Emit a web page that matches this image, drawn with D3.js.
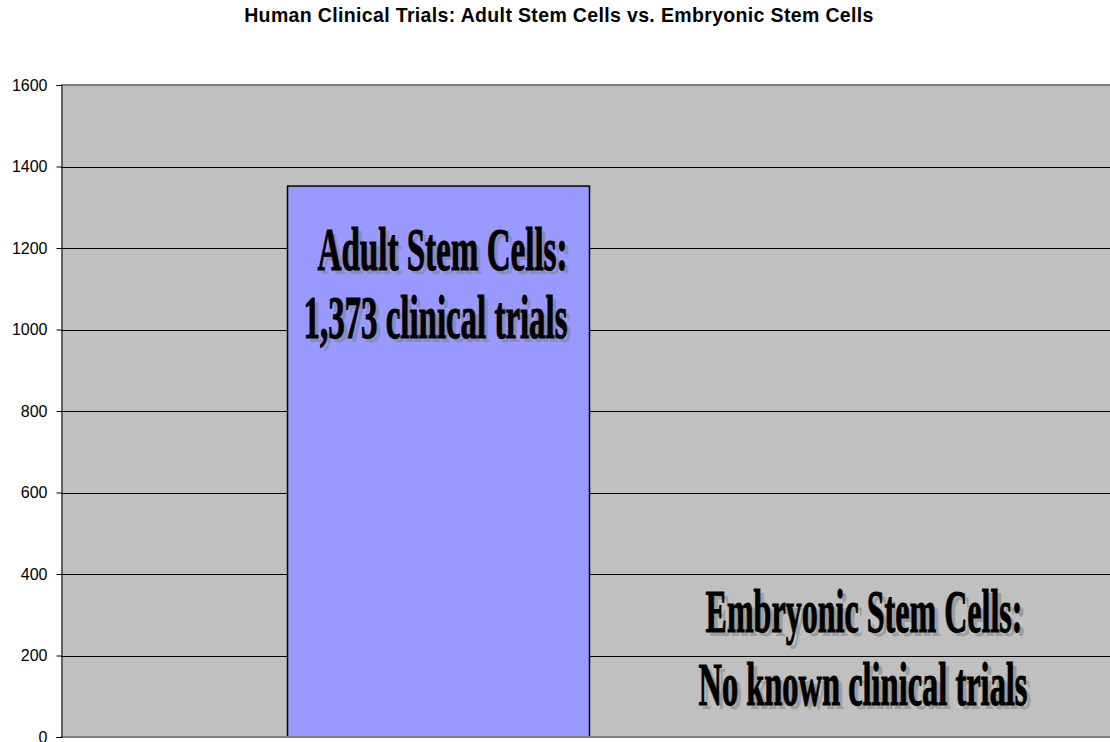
<!DOCTYPE html>
<html>
<head>
<meta charset="utf-8">
<script src="https://cdn.jsdelivr.net/npm/d3@7"></script>
<style>
  html, body { margin: 0; padding: 0; background: #ffffff; overflow: hidden; }
  svg { display: block; }
</style>
</head>
<body>
<svg id="chart" width="1110" height="742"></svg>
<script>
// ---- data ----
const categories = ["Adult Stem Cells", "Embryonic Stem Cells"];
const trialCounts = [1352, 0];
const yTicks = [0, 200, 400, 600, 800, 1000, 1200, 1400, 1600];
const titleText = "Human Clinical Trials: Adult Stem Cells vs. Embryonic Stem Cells";
const adultLabel = ["Adult Stem Cells:", "1,373 clinical trials"];
const embryonicLabel = ["Embryonic Stem Cells:", "No known clinical trials"];

// ---- layout ----
const plot = { left: 61, top: 85, bottom: 737, right: 1571 };

const svg = d3.select("#chart");

const x = d3.scaleBand()
  .domain(categories)
  .range([plot.left, plot.right])
  .paddingInner(0.6)
  .paddingOuter(0.3);

const y = d3.scaleLinear()
  .domain([0, 1600])
  .range([plot.bottom, plot.top]);

// plot background
svg.append("rect")
  .attr("x", plot.left).attr("y", plot.top)
  .attr("width", plot.right - plot.left)
  .attr("height", plot.bottom - plot.top)
  .attr("fill", "#c0c0c0");

// gridlines
svg.append("g")
  .selectAll("line")
  .data(yTicks.filter(d => d > 0 && d < 1600))
  .join("line")
  .attr("x1", plot.left).attr("x2", plot.right)
  .attr("y1", d => Math.round(y(d)) + 0.5).attr("y2", d => Math.round(y(d)) + 0.5)
  .attr("stroke", "#000").attr("stroke-width", 1);

// top border
svg.append("line")
  .attr("x1", plot.left).attr("x2", plot.right)
  .attr("y1", y(1600)).attr("y2", y(1600))
  .attr("stroke", "#808080").attr("stroke-width", 2);

// bars
svg.append("g")
  .selectAll("rect")
  .data(categories.map((c, i) => ({ c, v: trialCounts[i] })).filter(d => d.v > 0))
  .join("rect")
  .attr("x", d => x(d.c))
  .attr("y", d => y(d.v))
  .attr("width", x.bandwidth())
  .attr("height", d => y(0) - y(d.v))
  .attr("fill", "#9999ff")
  .attr("stroke", "#000")
  .attr("stroke-width", 1.5);

// bottom (zero) line
svg.append("line")
  .attr("x1", plot.left).attr("x2", plot.right)
  .attr("y1", y(0)).attr("y2", y(0))
  .attr("stroke", "#808080").attr("stroke-width", 2);

// y axis
const yAxis = d3.axisLeft(y)
  .tickValues(yTicks)
  .tickSize(5)
  .tickPadding(9)
  .tickFormat(d3.format("d"));
const gy = svg.append("g")
  .attr("transform", `translate(${plot.left + 0.5},0)`)
  .call(yAxis);
gy.select(".domain").attr("stroke", "#000").attr("stroke-width", 1);
gy.selectAll(".tick line").attr("stroke", "#000");
gy.selectAll(".tick text")
  .attr("font-family", "Arial, 'Liberation Sans', sans-serif")
  .attr("font-size", 16)
  .attr("fill", "#000");

// title
svg.append("text")
  .attr("x", 559).attr("y", 22)
  .attr("text-anchor", "middle")
  .attr("font-family", "Arial, 'Liberation Sans', sans-serif")
  .attr("font-weight", "bold")
  .attr("font-size", 19.5)
  .attr("letter-spacing", 0.35)
  .attr("fill", "#000")
  .text(titleText);

// annotation text with shadow, condensed serif
function bigLabel(lines, specs) {
  const g = svg.append("g");
  lines.forEach((t, i) => {
    const s = specs[i];
    [["shadow", 4, 4], ["main", 0, 0]].forEach(([kind, dx, dy]) => {
      g.append("text")
        .attr("x", s.x + dx).attr("y", s.y + dy)
        .attr("text-anchor", "middle")
        .attr("font-family", "'Times New Roman', 'Liberation Serif', serif")
        .attr("font-weight", "bold")
        .attr("font-size", 62)
        .attr("textLength", s.w)
        .attr("lengthAdjust", "spacingAndGlyphs")
        .attr("fill", kind === "shadow" ? "#808080" : "#000")
        .attr("fill-opacity", kind === "shadow" ? 0.55 : 1)
        .attr("stroke", kind === "shadow" ? "none" : "#000")
        .attr("stroke-width", kind === "shadow" ? 0 : 1.1)
        .text(t);
    });
  });
}

bigLabel(adultLabel, [
  { x: 442.5, y: 270, w: 250 },
  { x: 435.5, y: 338, w: 264 }
]);
bigLabel(embryonicLabel, [
  { x: 864, y: 632, w: 317 },
  { x: 863, y: 705, w: 329 }
]);
</script>
</body>
</html>
